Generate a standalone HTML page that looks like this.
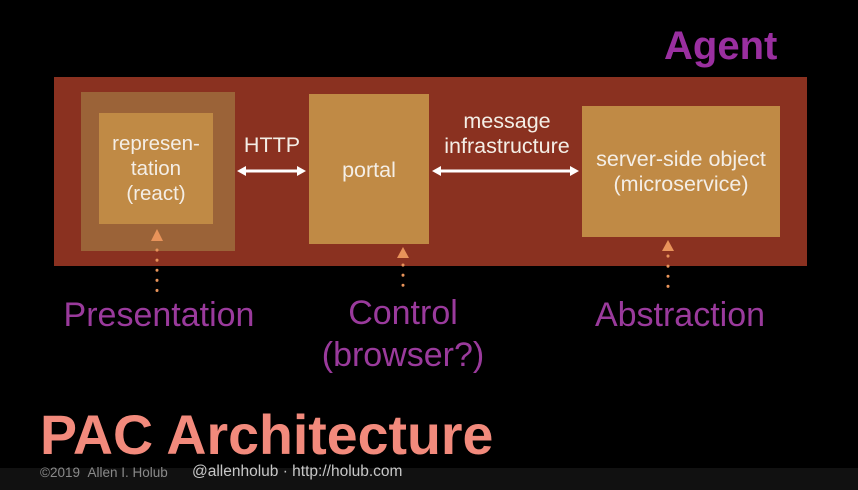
<!DOCTYPE html>
<html><head><style>
body{margin:0;width:858px;height:490px;background:#000;position:relative;overflow:hidden;font-family:"Liberation Sans",sans-serif}
div{position:absolute}
.w{color:#f4eee6;text-align:center;font-size:21.5px;line-height:25px}
.p{color:#9a3a9c;text-align:center;font-size:34px;line-height:42px}
</style></head><body>
<div style="left:0;top:468px;width:858px;height:22px;background:#111"></div>
<div style="left:664px;top:24px;font-weight:bold;font-size:40px;color:#9a2fa0">Agent</div>
<div style="left:54px;top:77px;width:753px;height:189px;background:#8a3120"></div>
<div style="left:81px;top:92px;width:154px;height:159px;background:#9b6338"></div>
<div style="left:99px;top:113px;width:114px;height:111px;background:#c08a45"></div>
<div class="w" style="left:89px;top:131px;width:134px;font-size:20.5px">represen-<br>tation<br>(react)</div>
<div style="left:309px;top:94px;width:120px;height:150px;background:#c08a45"></div>
<div class="w" style="left:309px;top:158px;width:120px">portal</div>
<div style="left:582px;top:106px;width:198px;height:131px;background:#c08a45"></div>
<div class="w" style="left:572px;top:147px;width:218px">server-side object<br>(microservice)</div>
<div class="w" style="left:227px;top:133px;width:90px">HTTP</div>
<div class="w" style="left:422px;top:109px;width:170px">message<br>infrastructure</div>
<svg width="858" height="490" style="position:absolute;left:0;top:0">
<g stroke="#fff" stroke-width="3" fill="#fff">
<line x1="242" y1="171" x2="301" y2="171"/>
<polygon points="237,171 246,166 246,176" stroke="none"/>
<polygon points="306,171 297,166 297,176" stroke="none"/>
<line x1="437" y1="171" x2="574" y2="171"/>
<polygon points="432,171 441,166 441,176" stroke="none"/>
<polygon points="579,171 570,166 570,176" stroke="none"/>
</g>
<g fill="#e8935a">
<polygon points="157,229 151,241 163,241"/>
<polygon points="403,247 397,258 409,258"/>
<polygon points="668,240 662,251 674,251"/>
</g>
<g stroke="#e8935a" stroke-width="3" stroke-dasharray="0.1,10" stroke-linecap="round">
<line x1="157" y1="250" x2="157" y2="295"/>
<line x1="403" y1="265" x2="403" y2="295"/>
<line x1="668" y1="256" x2="668" y2="296"/>
</g>
</svg>
<div class="p" style="left:29px;top:294px;width:260px">Presentation</div>
<div class="p" style="left:273px;top:292px;width:260px">Control<br>(browser?)</div>
<div class="p" style="left:550px;top:294px;width:260px">Abstraction</div>
<div style="left:40px;top:403px;font-weight:bold;font-size:55.5px;color:#f28a7c;line-height:64px">PAC Architecture</div>
<div style="left:40px;top:465px;font-size:13.5px;color:#8a8a8a">©2019 &nbsp;Allen I. Holub</div>
<div style="left:192px;top:463px;font-size:15.5px;color:#c8c8c8">@allenholub · http://holub.com</div>
</body></html>
